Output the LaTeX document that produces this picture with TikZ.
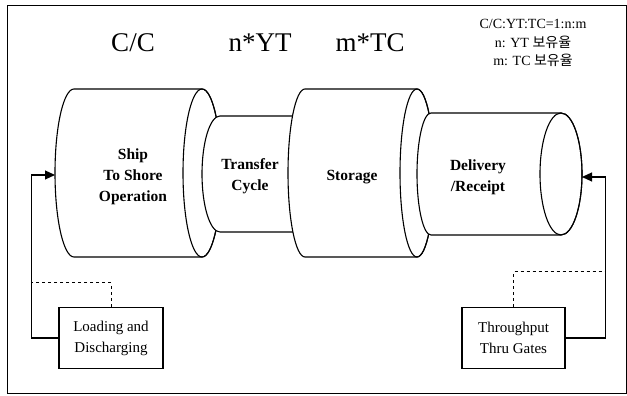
\documentclass[tikz,border=0pt]{standalone}
\usepackage{fontspec}
\setmainfont{Liberation Serif}
\newfontfamily\kor{Noto Sans CJK KR}
\usetikzlibrary{arrows.meta,positioning}

\tikzset{
	drum/.style={draw, fill=white, line width=1.1pt},
	drumlbl/.style={font=\fontsize{15.5}{21}\selectfont\bfseries, align=center},
	head/.style={font=\fontsize{27}{30}\selectfont},
	ratio/.style={font=\fontsize{14}{18.5}\selectfont, align=center},
	opbox/.style={draw, line width=1.3pt, minimum width=104pt, minimum height=61pt,
		align=center, font=\fontsize{15}{21}\selectfont},
	feed/.style={line width=1.1pt, -{Triangle[length=10pt,width=9pt]}},
	dashline/.style={dashed, line width=1pt}
}

\begin{document}
\begin{tikzpicture}[x=1pt, y=1pt]
		\useasboundingbox (0,0) rectangle (627,396);
		\draw[line width=0.8pt] (7,3) rectangle (626,391);

		% drums: left x / right x / centre y / y radius / left x radius / right x radius
		\foreach \xl/\xr/\cy/\ry/\rl/\rr in {74/202/223/84/19/19, 220/298/222/58/18/1,
				305/417/223/84/17/17, 431/561/222/61/14/21} {
			\filldraw[drum] (\xl,\cy+\ry) arc[start angle=90, end angle=270, x radius=\rl, y radius=\ry]
				-- (\xr,\cy-\ry) arc[start angle=-90, end angle=90, x radius=\rr, y radius=\ry] -- cycle;
			\draw[drum, fill=none] (\xr,\cy) ellipse[x radius=\rr, y radius=\ry];
		}

		\node[drumlbl] (ship) at (133,219) {Ship\\To Shore\\Operation};
		\node[drumlbl] (transfer) at (250,220) {Transfer\\Cycle};
		\node[drumlbl] (storage) at (352,219) {Storage};
		\node[drumlbl] (delivery) at (478,219) {Delivery\\/Receipt};

		\node[head] (cc) at (133,353) {C/C};
		\node[head] (nyt) at (260,353) {n*YT};
		\node[head] (mtc) at (370,353) {m*TC};
		\node[ratio] (rate) at (533,353) {C/C:YT:TC=1:n:m\\n: YT {\kor 보유율}\\m: TC {\kor 보유율}};

		\node[opbox] (load) at (111,58) {Loading and\\Discharging};
		\node[opbox, minimum width=103pt] (thru) at (513.5,58) {Throughput\\Thru Gates};

		\coordinate (shipin) at (55,221);
		\coordinate (delin) at (582,219);

		\draw[feed] (load.west) -- ++(-27,0) |- (shipin);
		\draw[dashline] (load.north) |- ++(-79,24);
		\draw[feed] (thru.east) -- ++(40,0) |- (delin);
		\draw[dashline] (thru.north) |- ++(91,35);
	\end{tikzpicture}
\end{document}
